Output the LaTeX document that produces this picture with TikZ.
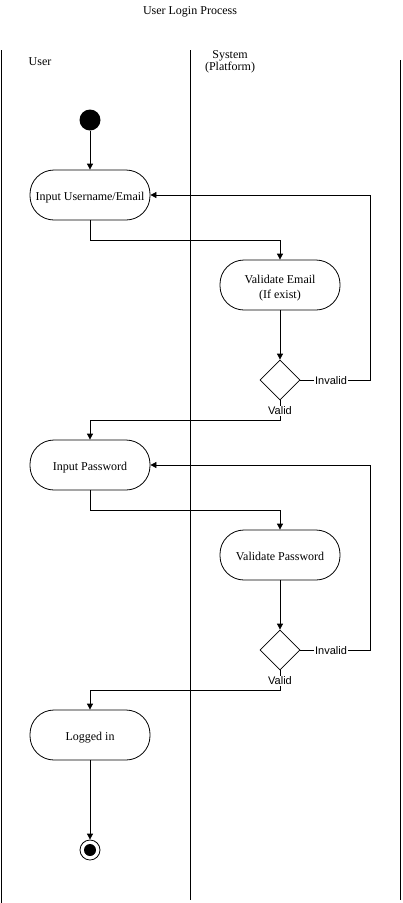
\documentclass[tikz,border=0pt]{standalone}
\usepackage{fontspec}
\setmainfont{Liberation Serif}
\newfontfamily\lblfont{Liberation Sans}
\usetikzlibrary{arrows.meta,shapes.geometric}
\begin{document}
\begin{tikzpicture}[x=1pt,y=-1pt,
  lane/.style={line width=1pt},
  act/.style={draw,line width=0.8pt,rounded corners=24pt,minimum width=120pt,minimum height=50pt,inner sep=0pt,align=center,font=\fontsize{12}{14.5}\selectfont},
  oneline/.style={text height=12pt,text depth=0.5pt},
  twoline/.style={text height=29pt,text depth=3pt},
  dec/.style={draw,diamond,line width=0.8pt,minimum width=40pt,minimum height=40pt,inner sep=0pt,aspect=1},
  flow/.style={line width=0.8pt,-{Triangle[length=6pt,width=6pt]}},
  lbl/.style={fill=white,inner sep=1pt,font=\lblfont\fontsize{11}{12}\selectfont},
  txt/.style={font=\fontsize{12}{14}\selectfont,align=center}]
\useasboundingbox[fill=white] (0,0) rectangle (403,903);
% lanes
\draw[lane] (1,50) -- (1,903);
\draw[lane] (190,50) -- (190,900);
\draw[lane] (400,60) -- (400,900);
\node[txt] (title) at (190,12) {User Login Process};
\node[txt] (user) at (40,62) {User};
\node[txt] (sys) at (230,62) {System\\[-2pt](Platform)};
% nodes
\node[circle,fill=black,minimum size=21pt,inner sep=0pt] (start) at (90,120) {};
\node[act,oneline] (in1) at (90,195) {Input Username/Email};
\node[act,twoline] (val1) at (280,285) {Validate Email\\(If exist)};
\node[dec] (d1) at (280,380) {};
\node[act,oneline] (in2) at (90,465) {Input Password};
\node[act,oneline] (val2) at (280,555) {Validate Password};
\node[dec] (d2) at (280,650) {};
\node[act,oneline] (done) at (90,735) {Logged in};
\node[circle,draw,line width=0.8pt,minimum size=20pt,inner sep=0pt] (end) at (90,850) {};
\node[circle,fill=black,minimum size=12pt,inner sep=0pt] (endin) at (90,850) {};
% coordinates
\coordinate (a1) at (90,240); \coordinate (a2) at (280,240);
\coordinate (b1) at (370,380); \coordinate (b2) at (370,195);
\coordinate (c1) at (280,420); \coordinate (c2) at (90,420);
\coordinate (e1) at (90,510); \coordinate (e2) at (280,510);
\coordinate (f1) at (370,650); \coordinate (f2) at (370,465);
\coordinate (g1) at (280,690); \coordinate (g2) at (90,690);
% edges
\draw[flow] (start) -- (in1);
\draw[flow] (in1.south) -- (a1) -- (a2) -- (val1.north);
\draw[flow] (val1) -- (d1);
\draw[flow] (d1.east) -- (b1) -- (b2) -- (in1.east);
\draw[flow] (d1.south) -- (c1) -- (c2) -- (in2.north);
\draw[flow] (in2.south) -- (e1) -- (e2) -- (val2.north);
\draw[flow] (val2) -- (d2);
\draw[flow] (d2.east) -- (f1) -- (f2) -- (in2.east);
\draw[flow] (d2.south) -- (g1) -- (g2) -- (done.north);
\draw[flow] (done) -- (end);
% labels
\node[lbl] (inv1) at (331,381) {Invalid};
\node[lbl] (v1) at (280,411) {Valid};
\node[lbl] (inv2) at (331,651) {Invalid};
\node[lbl] (v2) at (280,681) {Valid};
\end{tikzpicture}
\end{document}
